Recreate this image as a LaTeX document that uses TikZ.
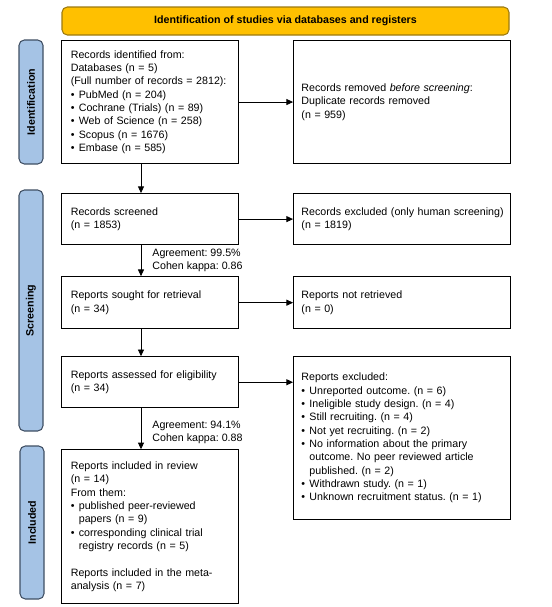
\documentclass[tikz,border=0pt]{standalone}
\usepackage{fontspec}
\setmainfont{Liberation Sans}
\usetikzlibrary{arrows.meta,positioning}
\definecolor{headfill}{HTML}{FFC000}
\definecolor{headline}{HTML}{9C7A10}
\definecolor{barfill}{HTML}{A5C3E5}
\definecolor{barline}{HTML}{3F4F63}
\newcommand{\itm}{\makebox[6pt][l]{\textbullet}}
\newcommand{\cnt}{\hspace*{6pt}}
\frenchspacing

\begin{document}
\begin{tikzpicture}[x=0.75pt,y=-0.75pt,font=\fontsize{8}{10}\selectfont,
  box/.style={draw,line width=0.8pt,align=left,inner ysep=0pt},
  lbox/.style={box,inner xsep=7pt,text width=118.75pt},
  rbox/.style={box,inner xsep=5.9pt,text width=151pt},
  head/.style={draw=headline,fill=headfill,line width=0.8pt,rounded corners=4pt,
    minimum width=335.25pt,minimum height=21pt,font=\fontsize{8}{10}\selectfont\bfseries},
  phase/.style={draw=barline,fill=barfill,line width=0.8pt,rounded corners=4pt,
    minimum height=18pt,rotate=90,font=\fontsize{8}{10}\selectfont\bfseries},
  arr/.style={-{Triangle[length=5pt,width=4.5pt]},line width=0.6pt},
  lbl/.style={align=left,inner sep=0pt}]
  \useasboundingbox (0,0) rectangle (551,607);

  \node[head] (hd) at (285.5,21) {Identification of studies via databases and registers};
  \node[phase,minimum width=93pt] (ph1) at (31,102) {Identification};
  \node[phase,minimum width=180.75pt] (ph2) at (31,310.5) {Screening};
  \node[phase,minimum width=114.75pt] (ph3) at (32,522.5) {Included};

  \node[lbox,minimum height=92.25pt,anchor=north west] (b1) at (61,40)
    {Records identified from:\\
     Databases (n = 5)\\
     (Full number of records = 2812):\\
     \itm PubMed (n = 204)\\
     \itm Cochrane (Trials) (n = 89)\\
     \itm Web of Science (n = 258)\\
     \itm Scopus (n = 1676)\\
     \itm Embase (n = 585)};
  \node[lbox,minimum height=38.25pt,below=21.75pt of b1] (b2)
    {Records screened\\(n = 1853)};
  \node[lbox,minimum height=39pt,below=23.25pt of b2] (b3)
    {Reports sought for retrieval\\(n = 34)};
  \node[lbox,minimum height=38.25pt,below=20.25pt of b3] (b4)
    {Reports assessed for eligibility\\(n = 34)};
  \node[lbox,minimum height=115.5pt,below=30.75pt of b4] (b5)
    {Reports included in review\\
     (n = 14)\\
     From them:\\
     \itm published peer-reviewed\\
     \cnt papers (n = 9)\\
     \itm corresponding clinical trial\\
     \cnt registry records (n = 5)\\[10pt]
     Reports included in the meta-\\
     analysis (n = 7)};

  \node[rbox,minimum height=92.25pt,right=40.5pt of b1] (r1)
    {Records removed \textit{before screening}:\\
     Duplicate records removed\\
     (n = 959)};
  \node[rbox,minimum height=38.25pt,right=40.5pt of b2] (r2)
    {\mbox{Records excluded (only human screening)}\\(n = 1819)};
  \node[rbox,minimum height=39pt,right=40.5pt of b3] (r3)
    {Reports not retrieved\\(n = 0)};
  \node[rbox,minimum height=122.25pt,anchor=north west] (r4) at ([xshift=40.5pt]b4.north east)
    {Reports excluded:\\
     \itm Unreported outcome. (n = 6)\\
     \itm Ineligible study design. (n = 4)\\
     \itm Still recruiting. (n = 4)\\
     \itm Not yet recruiting. (n = 2)\\
     \itm No information about the primary\\
     \cnt outcome. No peer reviewed article\\
     \cnt published. (n = 2)\\
     \itm Withdrawn study. (n = 1)\\
     \itm Unknown recruitment status. (n = 1)};

  \coordinate (ax) at (141,0);
  \draw[arr] (b1.south -| ax) -- (b2.north -| ax);
  \draw[arr] (b2.south -| ax) -- node[lbl,right=8.25pt] {Agreement: 99.5\%\\Cohen kappa: 0.86} (b3.north -| ax);
  \draw[arr] (b3.south -| ax) -- (b4.north -| ax);
  \draw[arr] (b4.south -| ax) -- node[lbl,right=8.25pt,pos=0.58] {Agreement: 94.1\%\\Cohen kappa: 0.88} (b5.north -| ax);

  \draw[arr] (b1.east) -- (r1.west);
  \draw[arr] (b2.east) -- (r2.west);
  \draw[arr] (b3.east) -- (r3.west);
  \draw[arr] (b4.east) -- (b4.east -| r4.west);
\end{tikzpicture}
\end{document}
